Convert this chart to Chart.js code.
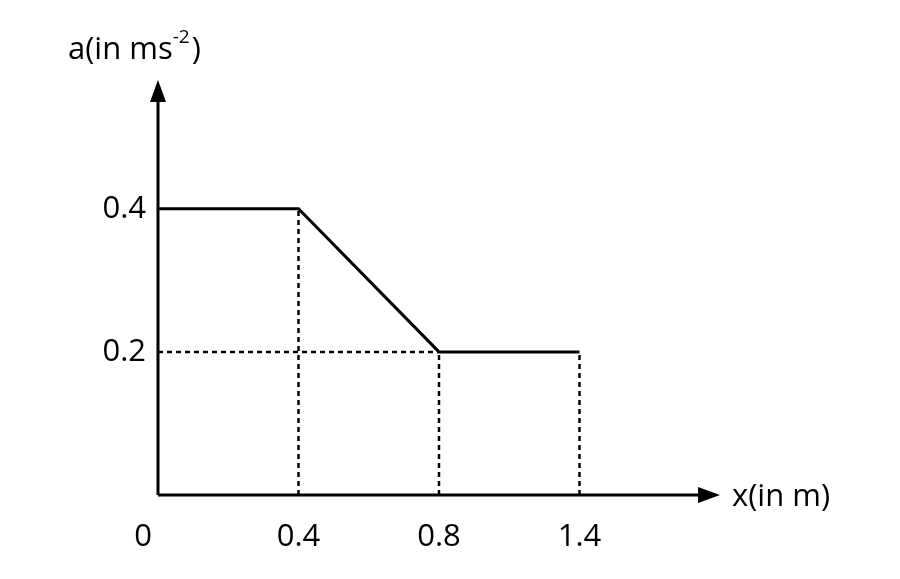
<!DOCTYPE html>
<html><head><meta charset="utf-8">
<script src="https://cdn.jsdelivr.net/npm/chart.js@4/dist/chart.umd.min.js"></script>
<style>html,body{margin:0;background:#fff}#w{width:900px;height:579px}</style>
</head><body><div id="w"><canvas id="c"></canvas></div>
<script>
const xLabels = ['0', '0.4', '0.8', '1.4', ''];
const accel = [0.4, 0.4, 0.2, 0.2];
const yTicks = [0.2, 0.4];
const xTickLabels = ['0.4', '0.8', '1.4'];
const xTickValues = [0.4, 0.2, 0.2];

const dashed = [];
xTickLabels.forEach((l, i) => dashed.push({data: [{x: l, y: 0}, {x: l, y: xTickValues[i]}]}));
dashed.push({data: [{x: '0', y: 0.2}, {x: '0.8', y: 0.2}]});

const font = '31px "Open Sans", "Liberation Sans", sans-serif';
const axes = {
  id: 'axes',
  afterDraw(ch) {
    const c = ch.ctx, xs = ch.scales.x, ys = ch.scales.y, a = ch.chartArea;
    const ox = a.left, oy = ys.getPixelForValue(0);
    c.save();
    c.strokeStyle = '#000'; c.fillStyle = '#000'; c.lineWidth = 3;
    c.beginPath(); c.moveTo(ox, oy); c.lineTo(a.right - 18, oy); c.moveTo(ox, oy); c.lineTo(ox, a.top + 18); c.stroke();
    c.beginPath(); c.moveTo(a.right, oy); c.lineTo(a.right - 22, oy - 8); c.lineTo(a.right - 22, oy + 8); c.closePath(); c.fill();
    c.beginPath(); c.moveTo(ox, a.top); c.lineTo(ox - 8, a.top + 22); c.lineTo(ox + 8, a.top + 22); c.closePath(); c.fill();
    c.font = font; c.textBaseline = 'middle';
    c.textAlign = 'right';
    yTicks.forEach(v => c.fillText(String(v), 146, ys.getPixelForValue(v)));
    c.textAlign = 'center';
    c.fillText('0', 143, oy + 42);
    xTickLabels.forEach(l => c.fillText(l, xs.getPixelForValue(l), oy + 42));
    c.textAlign = 'left';
    c.fillText('x(in m)', a.right + 12, oy + 2);
    c.fillText('a(in ms', 68, 50);
    const w = c.measureText('a(in ms').width;
    c.font = '19px "Open Sans", "Liberation Sans", sans-serif';
    c.fillText('-2', 68 + w, 38);
    const w2 = c.measureText('-2').width;
    c.font = font;
    c.fillText(')', 68 + w + w2 + 2, 50);
    c.restore();
  }
};

new Chart(document.getElementById('c'), {
  type: 'line',
  data: {
    labels: xLabels,
    datasets: [
      {data: accel, borderColor: '#000', borderWidth: 3, pointRadius: 0, tension: 0},
      ...dashed.map(d => ({...d, borderColor: '#000', borderWidth: 2.5, borderDash: [5, 4], pointRadius: 0}))
    ]
  },
  options: {
    responsive: true, maintainAspectRatio: false, animation: false,
    layout: {padding: {left: 158, right: 180, top: 80, bottom: 84}},
    plugins: {legend: {display: false}, tooltip: {enabled: false}},
    scales: {
      x: {type: 'category', display: false},
      y: {min: 0, max: 0.58, display: false}
    }
  },
  plugins: [axes]
});
</script></body></html>
